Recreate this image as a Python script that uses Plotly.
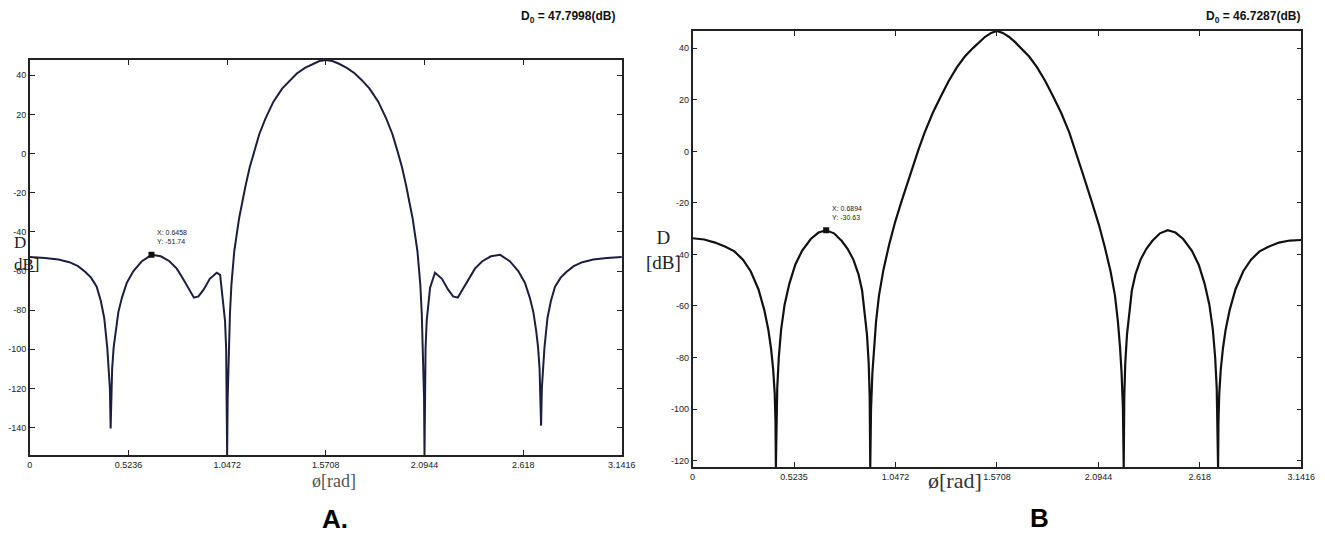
import plotly.graph_objects as go
from plotly.subplots import make_subplots

# ── DATA ──────────────────────────────────────────────────────────────

# panel A: D [dB] versus phi [rad], D0 = 47.7998 dB
phi_a = [0.000, 0.080, 0.152, 0.210, 0.256, 0.295, 0.325, 0.355, 0.377, 0.395,
         0.411, 0.420, 0.425, 0.429, 0.433, 0.437, 0.445, 0.455, 0.470, 0.489,
         0.515, 0.550, 0.595, 0.6458, 0.695, 0.741, 0.780, 0.810, 0.840, 0.871,
         0.895, 0.923, 0.955, 0.992, 1.010, 1.018, 1.030, 1.036, 1.042, 1.045,
         1.0472, 1.050, 1.056, 1.062, 1.070, 1.085, 1.111, 1.128, 1.146, 1.167,
         1.190, 1.218, 1.251, 1.293, 1.339, 1.380, 1.417, 1.460, 1.504, 1.537,
         1.5708,
         1.605, 1.638, 1.682, 1.725, 1.762, 1.803, 1.849, 1.891, 1.924, 1.952,
         1.975, 1.996, 2.014, 2.031, 2.057, 2.072, 2.080, 2.086, 2.092, 2.0944,
         2.097, 2.100, 2.106, 2.124, 2.150, 2.187, 2.219, 2.246, 2.271, 2.302,
         2.332, 2.362, 2.401, 2.447, 2.496, 2.547, 2.592, 2.627, 2.653, 2.672,
         2.687, 2.697, 2.705, 2.709, 2.713, 2.717, 2.722, 2.731, 2.747, 2.765,
         2.787, 2.817, 2.847, 2.886, 2.932, 2.990, 3.062, 3.1416]
d_a = [-52.9, -53.3, -54.1, -55.5, -57.5, -60.5, -63.4, -68.0, -75.3, -84.0,
       -99.0, -110.0, -120.0, -140.5, -120.0, -110.0, -99.0, -90.6, -81.0, -73.6,
       -66.0, -60.0, -55.0, -51.74, -52.5, -55.0, -58.8, -63.4, -68.5, -73.6,
       -73.0, -69.4, -64.0, -60.9, -62.0, -68.5, -78.0, -85.5, -100.0, -120.0,
       -154.0, -125.0, -100.0, -82.0, -66.8, -49.9, -32.9, -24.0, -15.9, -7.0,
       1.0, 10.0, 18.0, 26.5, 33.2, 37.5, 40.9, 43.8, 46.0, 47.3,
       47.8,
       47.3, 46.0, 43.8, 40.9, 37.5, 33.2, 26.5, 18.0, 10.0, 1.0,
       -7.0, -15.9, -24.0, -32.9, -49.9, -66.8, -82.0, -100.0, -125.0, -154.0,
       -120.0, -100.0, -85.5, -68.5, -60.9, -64.0, -69.4, -73.0, -73.6, -68.5,
       -63.4, -58.8, -55.0, -52.5, -51.74, -55.0, -60.0, -66.0, -73.6, -81.0,
       -90.6, -99.0, -110.0, -120.0, -139.0, -120.0, -110.0, -99.0, -84.0, -75.3,
       -68.0, -63.4, -60.5, -57.5, -55.5, -54.1, -53.3, -52.9]

# panel B: D [dB] versus phi [rad], D0 = 46.7287 dB
phi_b = [0.000, 0.060, 0.116, 0.170, 0.216, 0.260, 0.300, 0.340, 0.370, 0.391,
         0.405, 0.416, 0.424, 0.428, 0.430, 0.433, 0.437, 0.445, 0.457, 0.475,
         0.499, 0.530, 0.565, 0.610, 0.650, 0.6894, 0.730, 0.770, 0.800, 0.830,
         0.856, 0.875, 0.889, 0.900, 0.909, 0.914, 0.917, 0.921, 0.928, 0.936,
         0.947, 0.962, 0.985, 1.015, 1.045, 1.080, 1.131, 1.165, 1.198, 1.240,
         1.281, 1.322, 1.364, 1.405, 1.447, 1.480, 1.510, 1.541, 1.5708,
         1.601, 1.632, 1.662, 1.695, 1.737, 1.778, 1.820, 1.861, 1.902, 1.944,
         1.977, 2.011, 2.062, 2.097, 2.127, 2.157, 2.180, 2.195, 2.206, 2.214,
         2.221, 2.225, 2.228, 2.233, 2.242, 2.253, 2.267, 2.286, 2.312, 2.342,
         2.372, 2.412, 2.452, 2.492, 2.532, 2.577, 2.612, 2.643, 2.667, 2.685,
         2.697, 2.705, 2.709, 2.712, 2.714, 2.718, 2.726, 2.737, 2.751, 2.772,
         2.802, 2.842, 2.882, 2.926, 2.972, 3.026, 3.082, 3.1416]
d_b = [-33.7, -34.2, -35.4, -37.0, -38.8, -42.0, -46.5, -53.5, -61.5, -69.2,
       -76.5, -84.6, -94.0, -105.0, -122.5, -105.0, -92.0, -80.0, -69.2, -59.5,
       -51.5, -44.0, -38.6, -34.0, -31.5, -30.63, -31.8, -34.8, -37.8, -42.0,
       -47.6, -54.0, -62.6, -71.0, -82.2, -95.0, -122.5, -100.0, -86.0, -76.0,
       -66.0, -56.0, -46.0, -36.0, -27.5, -19.0, -7.0, 0.5, 7.4, 15.0,
       21.3, 27.3, 32.6, 36.8, 40.1, 42.6, 44.5, 46.0, 46.73,
       46.0, 44.5, 42.6, 40.1, 36.8, 32.6, 27.3, 21.3, 15.0, 7.4,
       0.0, -8.0, -20.0, -28.5, -37.0, -46.5, -56.0, -66.0, -76.0, -86.0,
       -100.0, -122.5, -95.0, -82.2, -71.0, -62.6, -54.0, -47.6, -42.0, -37.8,
       -34.8, -31.8, -30.6, -31.5, -34.0, -38.6, -44.0, -51.5, -59.5, -69.2,
       -80.0, -92.0, -105.0, -122.5, -105.0, -94.0, -84.6, -76.5, -69.2, -61.5,
       -53.5, -46.5, -42.0, -38.8, -37.0, -35.4, -34.6, -34.4]

# data cursors shown on each plot
cursor_a = (0.6458, -51.74)
cursor_b = (0.6894, -30.63)

x_ticks = [0, 0.5236, 1.0472, 1.5708, 2.0944, 2.618, 3.1416]
x_ticktext_a = ["0", "0.5236", "1.0472", "1.5708", "2.0944", "2.618", "3.1416"]
x_ticktext_b = ["0", "0.5235", "1.0472", "1.5708", "2.0944", "2.618", "3.1416"]
y_ticks_a = [40, 20, 0, -20, -40, -60, -80, -100, -120, -140]
y_ticks_b = [40, 20, 0, -20, -40, -60, -80, -100, -120]

# ── FIGURE ─────────────────────────────────────────────────────────────
W, H = 1325, 540
OFF = 8  # page body margin, positions below are in screenshot pixels


def px(x):
    return (x - OFF) / W


def py(y):
    return 1 - (y - OFF) / H


fig = make_subplots(rows=1, cols=2)

fig.add_trace(go.Scatter(x=phi_a, y=d_a, mode='lines',
                         line=dict(color='#1d1d3f', width=2)), row=1, col=1)
fig.add_trace(go.Scatter(x=phi_b, y=d_b, mode='lines',
                         line=dict(color='#111111', width=2.2)), row=1, col=2)
fig.add_trace(go.Scatter(x=[cursor_a[0]], y=[cursor_a[1]], mode='markers',
                         marker=dict(symbol='square', size=6, color='#111')), row=1, col=1)
fig.add_trace(go.Scatter(x=[cursor_b[0]], y=[cursor_b[1]], mode='markers',
                         marker=dict(symbol='square', size=6, color='#111')), row=1, col=2)

tick_font = dict(family="Liberation Sans Narrow, Liberation Sans, Arial", size=9, color='#222')
axis_common = dict(showgrid=False, zeroline=False, showline=True, linecolor='#222',
                   linewidth=1.5, mirror='ticks', ticks='inside', ticklen=5,
                   tickcolor='#222', tickfont=tick_font)

fig.update_xaxes(axis_common)
fig.update_yaxes(axis_common)

fig.update_layout(
    xaxis=dict(domain=[px(20), px(623)], range=[0, 3.1416],
               tickvals=x_ticks, ticktext=x_ticktext_a),
    yaxis=dict(domain=[py(455), py(60)], range=[-154, 47.8],
               tickvals=y_ticks_a, ticktext=[str(v) for v in y_ticks_a]),
    xaxis2=dict(domain=[px(695), px(1315)], range=[0, 3.1416],
                tickvals=x_ticks, ticktext=x_ticktext_b),
    yaxis2=dict(domain=[py(467), py(31)], range=[-122.5, 46.73],
                tickvals=y_ticks_b, ticktext=[str(v) for v in y_ticks_b]),
    width=W, height=H,
    margin=dict(l=0, r=0, t=0, b=0),
    paper_bgcolor='white', plot_bgcolor='white',
    showlegend=False,
)

serif = "Liberation Serif, Times New Roman, serif"
narrow_bold = "Liberation Sans Narrow, Liberation Sans, Arial"
annots = [
    # D0 headers
    dict(x=px(618), y=py(17), text="<b>D<sub>0</sub> = 47.7998(dB)</b>", xanchor='right',
         font=dict(family=narrow_bold, size=12, color='#111')),
    dict(x=px(1316), y=py(17), text="<b>D<sub>0</sub> = 46.7287(dB)</b>", xanchor='right',
         font=dict(family=narrow_bold, size=12, color='#111')),
    # y axis labels
    dict(x=px(2), y=py(254), text="D<br>dB]", xanchor='left', align='left',
         font=dict(family=serif, size=17, color='#222')),
    dict(x=px(646), y=py(250), text="D<br>[dB]", xanchor='left', align='center',
         font=dict(family=serif, size=19, color='#222')),
    # x axis labels
    dict(x=px(330), y=py(481), text="ø[rad]", font=dict(family=serif, size=18, color='#555')),
    dict(x=px(962), y=py(480), text="ø[rad]", font=dict(family=serif, size=22, color='#333')),
    # panel letters
    dict(x=px(331), y=py(519), text="<b>A.</b>", font=dict(family="Liberation Sans, Arial", size=26, color='#000')),
    dict(x=px(1048), y=py(518), text="<b>B</b>", font=dict(family="Liberation Sans, Arial", size=26, color='#000')),
]
for a in annots:
    a.setdefault('xanchor', 'center')
    a.update(xref='paper', yref='paper', showarrow=False, yanchor='middle')
    fig.add_annotation(a)

# data cursor labels
fig.add_annotation(x=cursor_a[0] + 0.02, y=cursor_a[1] + 4, xref='x', yref='y',
                   text="X: %.4f<br>Y: %.2f" % cursor_a, showarrow=False,
                   xanchor='left', yanchor='bottom', align='left',
                   font=dict(family=narrow_bold, size=7, color='#222'))
fig.add_annotation(x=cursor_b[0] + 0.02, y=cursor_b[1] + 3, xref='x2', yref='y2',
                   text="X: %.4f<br>Y: %.2f" % cursor_b, showarrow=False,
                   xanchor='left', yanchor='bottom', align='left',
                   font=dict(family=narrow_bold, size=7, color='#222'))

fig.write_html("out.html")
